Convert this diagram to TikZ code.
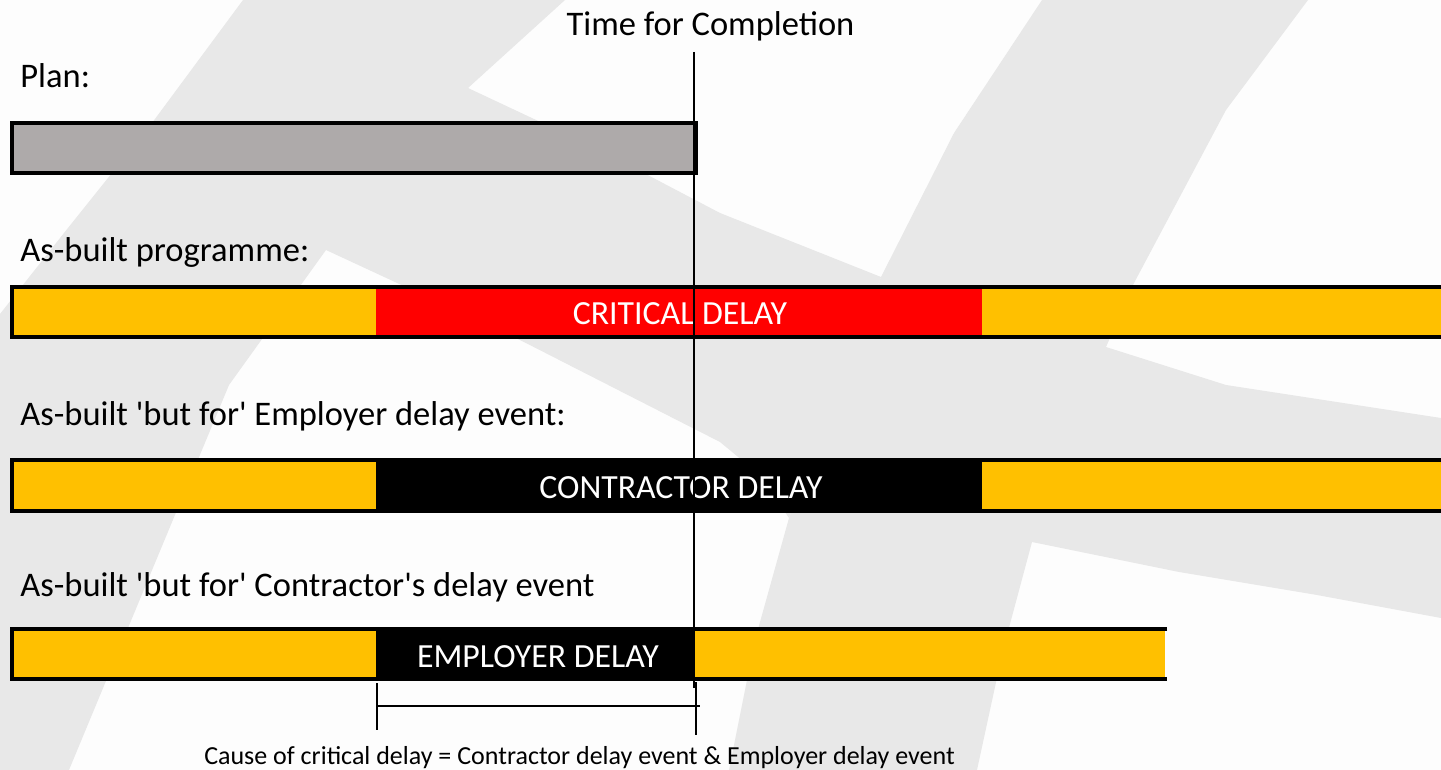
\documentclass[tikz,border=0pt]{standalone}
\usepackage{fontspec}
\setmainfont{Carlito}
\definecolor{pagewhite}{HTML}{FDFDFD}
\definecolor{markgrey}{HTML}{E8E8E8}
\definecolor{plangrey}{HTML}{AEAAAA}
\definecolor{barorange}{HTML}{FFC000}
\definecolor{barred}{HTML}{FF0000}
\begin{document}
\begin{tikzpicture}[x=0.5pt,y=-0.5pt,
  lbl/.style={anchor=base west,inner sep=0pt,font=\fontsize{17.25}{20}\selectfont},
  toplbl/.style={anchor=base,inner sep=0pt,font=\fontsize{17.25}{20}\selectfont},
  barlbl/.style={anchor=base,inner sep=0pt,text=white,font=\fontsize{16.9}{20}\selectfont},
  caplbl/.style={anchor=base,inner sep=0pt,font=\fontsize{13}{15}\selectfont},
  barframe/.style={draw=black,line width=1.65pt},
  tcline/.style={draw=black,line width=1pt},
  dimline/.style={draw=black,line width=1.3pt}]

% page and watermark
\fill[pagewhite] (0,0) rectangle (1441,770);
\useasboundingbox (0,0) rectangle (1441,770);
\fill[markgrey] (243,0) -- (565,0) -- (468,88) -- (600,150) -- (720,213) -- (881,277)
  -- (850,360) -- (789,518) -- (760,475) -- (720,442) -- (520,340) -- (326,250)
  -- (229,385) -- (150,575) -- (69,770) -- (0,770) -- (0,314) -- (64,233)
  -- (152,123) -- cycle;
\fill[markgrey] (1042,0) -- (1308,0) -- (1226,110) -- (1134,283) -- (1106,347)
  -- (1226,385) -- (1441,418) -- (1441,618) -- (1317,595) -- (1179,572) -- (1032,542)
  -- (1003,650) -- (977,770) -- (729,770) -- (755,640) -- (789,518) -- (881,277)
  -- (954,133) -- cycle;

% plan bar
\fill[plangrey] (12,123) rectangle (696,173);
\draw[barframe] (12,123) rectangle (696,173);

% as-built programme bar
\fill[barorange] (12,287) rectangle (376,337);
\fill[barred] (376,287) rectangle (982,337);
\fill[barorange] (982,287) rectangle (1460,337);
\draw[barframe] (12,287) rectangle (1460,337);

% but-for employer delay bar
\fill[barorange] (12,460) rectangle (376,511);
\fill[black] (376,460) rectangle (982,511);
\fill[barorange] (982,460) rectangle (1460,511);
\draw[barframe] (12,460) rectangle (1460,511);

% but-for contractor delay bar
\fill[barorange] (12,629) rectangle (376,679);
\fill[black] (376,629) rectangle (694,679);
\fill[barorange] (694,629) rectangle (1165,679);
\draw[barframe] (1167,629) -- (12,629) -- (12,679) -- (1167,679);

% texts
\node[toplbl] (tfc) at (710.5,36) {Time for Completion};
\node[lbl] (plan) at (20,88) {Plan:};
\node[lbl] (asb) at (20,262) {As-built programme:};
\node[lbl] (bfe) at (20,425) {As-built \textquotesingle but for\textquotesingle\ Employer delay event:};
\node[lbl] (bfc) at (20,596) {As-built \textquotesingle but for\textquotesingle\ Contractor\textquotesingle s delay event};
\node[barlbl] (crit) at (680,324.5) {CRITICAL DELAY};
\node[barlbl] (cdel) at (681,498) {CONTRACTOR DELAY};
\node[barlbl] (edel) at (538,667) {EMPLOYER DELAY};
\node[caplbl] (cause) at (579.5,764) {Cause of critical delay = Contractor delay event \& Employer delay event};

% time for completion line
\coordinate (tcTop) at (693.5,52);
\coordinate (tcBot) at (693.5,688);
\draw[tcline] (tcTop) -- (tcBot);

% concurrency span
\coordinate (dLtop) at (377,683);
\coordinate (dLbot) at (377,730);
\coordinate (dRtop) at (696,682);
\coordinate (dRbot) at (696,735);
\coordinate (dA) at (377,706);
\coordinate (dB) at (700,706);
\draw[dimline] (dLtop) -- (dLbot);
\draw[dimline] (dRtop) -- (dRbot);
\draw[dimline] (dA) -- (dB);
\end{tikzpicture}
\end{document}
